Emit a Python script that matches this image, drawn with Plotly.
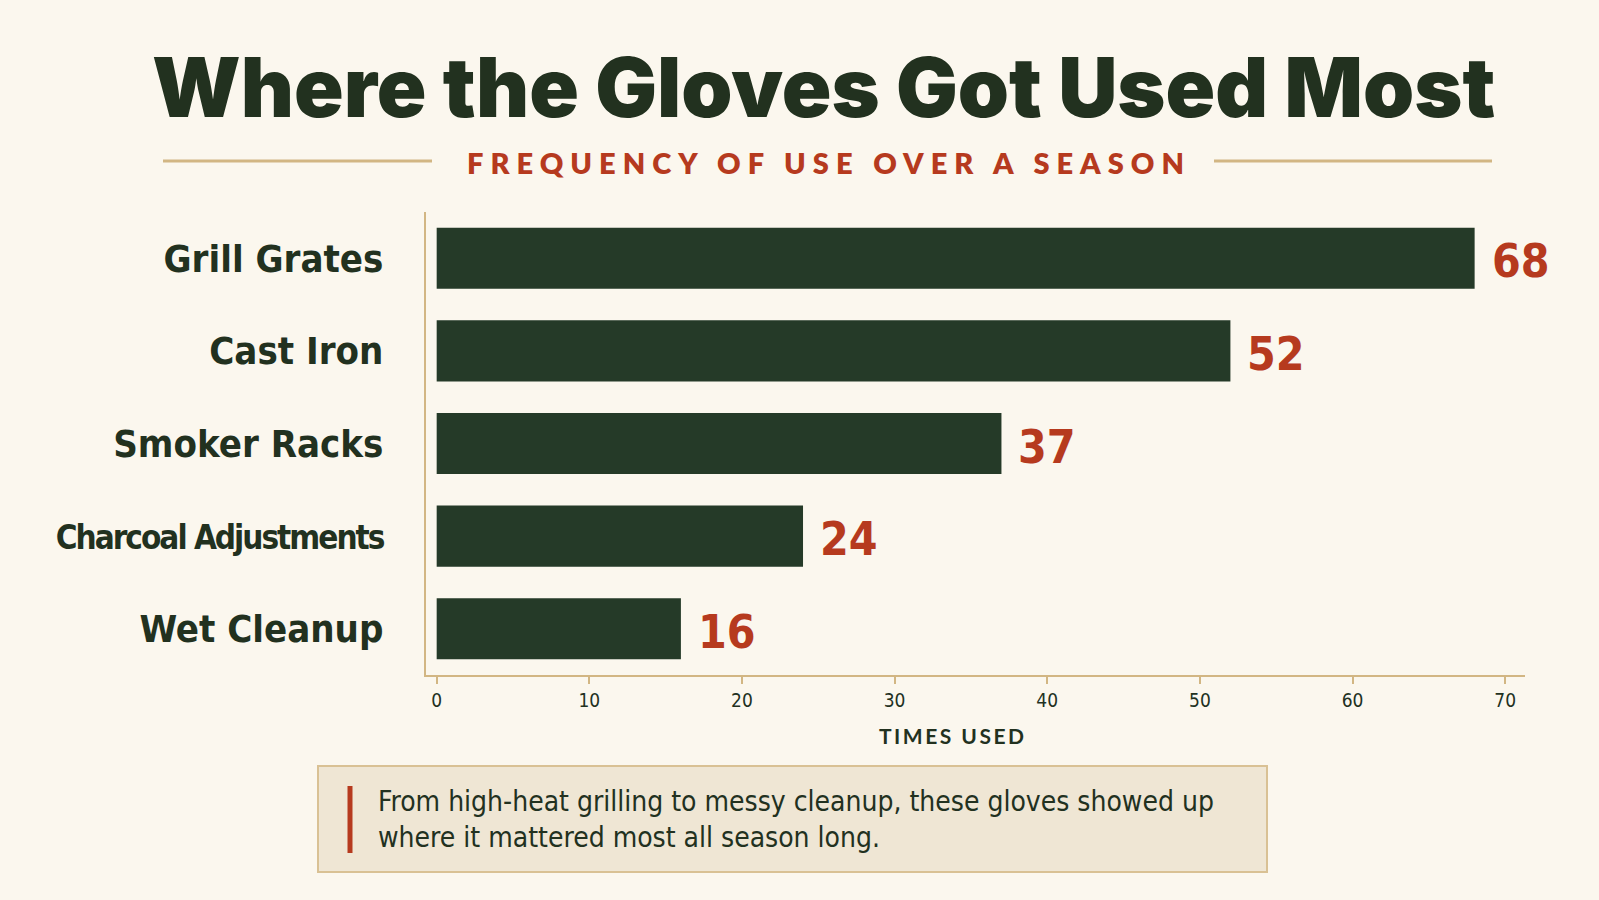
import plotly.graph_objects as go

# ---- data ----
categories = ["Grill Grates", "Cast Iron", "Smoker Racks", "Charcoal Adjustments", "Wet Cleanup"]
times_used = [68, 52, 37, 24, 16]
x_ticks = [0, 10, 20, 30, 40, 50, 60, 70]

title_text = "Where the Gloves Got Used Most"
subtitle_text = "FREQUENCY OF USE OVER A SEASON"
axis_title = "TIMES USED"
note_text = ("From high-heat grilling to messy cleanup, these gloves showed up<br>"
             "where it mattered most all season long.")

# ---- style ----
W, H = 1599, 900
BG = "#fbf7ee"
BAR = "#253a28"
RED = "#b63a1e"
DARK = "#22311f"
TAN = "#d2b683"
COND = "DejaVu Sans Condensed, sans-serif"

L, R, T, B = 426, 1525, 212, 675
pw, ph = R - L, B - T


def px(xp):
    return (xp - L) / pw


def py(yp):
    return (B - yp) / ph


# long labels get tighter tracking so they fit the left margin
tick_text = [
    f'<span style="letter-spacing:-2px;font-size:33px">{c}</span>' if len(c) > 14 else c
    for c in categories
]

fig = go.Figure()
fig.add_trace(go.Bar(
    x=times_used, y=categories, orientation="h",
    marker=dict(color=BAR, line=dict(width=0)),
    width=0.66, hoverinfo="x+y",
))

annotations = []
for c, v in zip(categories, times_used):
    annotations.append(dict(
        x=v, y=c, xref="x", yref="y", text=f"<b>{v}</b>", showarrow=False,
        xanchor="left", yanchor="middle", xshift=15, yshift=-3,
        font=dict(family=COND, size=46, color=RED),
    ))

annotations += [
    dict(x=px(823), y=py(88), xref="paper", yref="paper", text=title_text, showarrow=False,
         xanchor="center", yanchor="middle",
         font=dict(family="Inter, Lato, sans-serif", size=82, color=DARK, weight=900)),
    dict(x=px(829), y=py(163), xref="paper", yref="paper",
         text=f'<span style="letter-spacing:7px">{subtitle_text}</span>', showarrow=False,
         xanchor="center", yanchor="middle",
         font=dict(family="Lato, sans-serif", size=29, color=RED, weight=800)),
    dict(x=px(953), y=py(735), xref="paper", yref="paper",
         text=f'<span style="letter-spacing:2.5px">{axis_title}</span>', showarrow=False,
         xanchor="center", yanchor="middle",
         font=dict(family="Lato, sans-serif", size=21, color=DARK, weight=700)),
    dict(x=px(376), y=py(819), xref="paper", yref="paper", text=note_text, showarrow=False,
         xanchor="left", yanchor="middle", align="left",
         font=dict(family=COND, size=28, color=DARK)),
]

shapes = [
    dict(type="line", xref="paper", yref="paper", x0=px(163), x1=px(432), y0=py(161), y1=py(161),
         line=dict(color=TAN, width=3)),
    dict(type="line", xref="paper", yref="paper", x0=px(1214), x1=px(1492), y0=py(161), y1=py(161),
         line=dict(color=TAN, width=3)),
    dict(type="rect", xref="paper", yref="paper", x0=px(318), x1=px(1267), y0=py(872), y1=py(766),
         fillcolor="#efe6d4", line=dict(color="#d9c194", width=2), layer="below"),
    dict(type="line", xref="paper", yref="paper", x0=px(350), x1=px(350), y0=py(786), y1=py(853),
         line=dict(color=RED, width=5)),
]

fig.update_layout(
    template="none",
    width=W, height=H,
    margin=dict(l=L, r=W - R, t=T, b=H - B, pad=0),
    paper_bgcolor=BG, plot_bgcolor=BG,
    showlegend=False,
    annotations=annotations,
    shapes=shapes,
    xaxis=dict(
        range=[-0.7, 71.3], tickvals=x_ticks, showgrid=False, zeroline=False,
        showline=True, linecolor=TAN, linewidth=2, automargin=False,
        ticks="outside", ticklen=7, tickcolor=TAN, tickwidth=1.5,
        tickfont=dict(family=COND, size=19, color=DARK),
        fixedrange=True,
    ),
    yaxis=dict(
        autorange="reversed", showgrid=False, zeroline=False, automargin=False,
        showline=True, linecolor=TAN, linewidth=2, ticks="",
        tickmode="array", tickvals=categories, ticktext=tick_text,
        ticklabelstandoff=33,
        tickfont=dict(family=COND, size=38, color=DARK, weight=700),
        fixedrange=True,
    ),
    bargap=0.34,
)

fig.write_html("out.html")
